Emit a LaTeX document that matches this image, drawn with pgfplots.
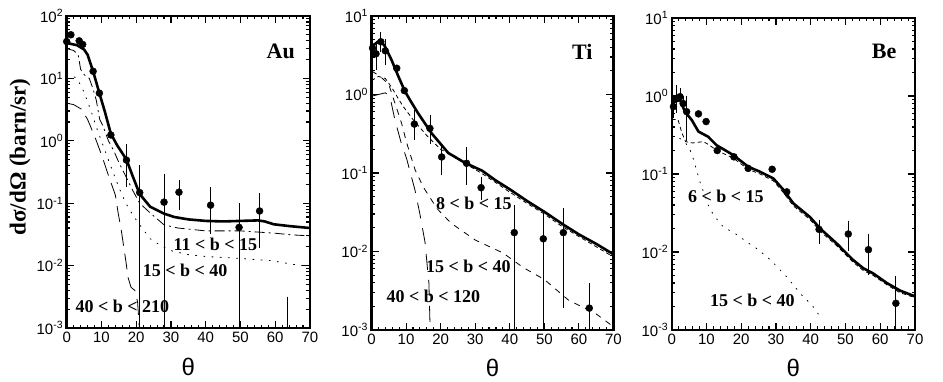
\documentclass[border=0pt]{standalone}
\usepackage{pgfplots}
\pgfplotsset{compat=1.18}
\usepackage{fontspec}
\setmainfont{Liberation Serif}
\setsansfont{Liberation Sans}

\pgfplotsset{
  tot/.style={black, line width=2.6pt, line join=round, no marks},
  comp/.style={black, line width=0.8pt, no marks},
  dat/.style={only marks, mark=*, mark size=3.5pt, black},
  bars/.style={only marks, mark=*, mark size=3.5pt, black,
    error bars/.cd, y dir=both, y explicit,
    error bar style={line width=0.8pt},
    error mark options={black, mark size=3.5pt, line width=0.8pt}},
}
\tikzset{
  lab/.style={font=\bfseries\fontsize{18}{18}\selectfont},
  elem/.style={font=\bfseries\fontsize{22}{22}\selectfont},
}

\begin{document}
\begin{tikzpicture}
\useasboundingbox (0,0) rectangle (943pt,382pt);

% ---------------- Au ----------------
\begin{axis}[
  scale only axis, anchor=south west, at={(66.7pt,54pt)},
  width=243.3pt, height=312pt,
  xmin=0, xmax=70, ymode=log, log basis y=10, ymin=1e-3, ymax=1e2,
  xtick={0,10,...,70}, xticklabels={0,10,20,30,40,50,60,70},
  minor x tick num=4, tick align=inside,
  major tick length=7pt, minor tick length=3.5pt,
  tick style={black, line width=1.1pt},
  axis line style={line width=2.4pt},
  ticklabel style={font=\sffamily\fontsize{15}{15}\selectfont},
  yticklabel={10\textsuperscript{\pgfmathparse{int(round(\tick))}\pgfmathresult}},
  xlabel={θ},
  xlabel style={font=\sffamily\fontsize{24}{24}\selectfont,
    at={(axis description cs:0.5,-0.126)}, anchor=center},
  ylabel={dσ/dΩ (barn/sr)},
  ylabel style={font=\bfseries\fontsize{23}{23}\selectfont,
    at={(axis description cs:-0.192,0.548)}, anchor=center}]
\addplot[tot] table {
0 37
1 36
3 34
5 29
6 24
7.6 13
9.4 5.8
11 2.9
12.7 1.3
14.5 0.85
17.2 0.5
19 0.27
21 0.14
24 0.088
28 0.068
31 0.06
35 0.055
40 0.052
45 0.051
50 0.052
55 0.053
57 0.051
59.5 0.046
64 0.043
70 0.040
};
% 11 < b < 15
\addplot[comp, dash pattern=on 10pt off 4pt on 2pt off 4pt] table {
0 30
2 28
3.3 24
4 14
5 11.5
6.5 10
7.5 7
8.5 4.5
9.5 2.2
10.5 1.7
12 1.0
13.5 0.7
15 0.45
17 0.27
19 0.16
21 0.1
24 0.07
28 0.045
32 0.04
40 0.036
50 0.036
60 0.033
65 0.031
70 0.030
};
% 15 < b < 40
\addplot[comp, line cap=round, dash pattern=on 1.2pt off 7pt] table {
0 12
3 10
5 6
7 3
9 1.4
11 0.7
13 0.35
15 0.18
17 0.1
19 0.065
21 0.045
24 0.027
27 0.021
30.5 0.017
35 0.015
40 0.014
50 0.013
59 0.012
65 0.0105
70 0.0097
};
% 40 < b < 210
\addplot[comp, dash pattern=on 16pt off 8pt] table {
0 4.0
2 3.8
4.3 3.2
6 2.2
8 1.2
10 0.6
12 0.28
14 0.135
14.8 0.07
15.7 0.037
17 0.012
17.7 0.0063
18.5 0.0045
19.6 0.004
20.4 0.0026
20.8 0.0012
21 0.0009
};
\addplot[dat] table {
0 39
1.2 50
3.6 40
4.6 35
7.6 13
9.4 5.8
12.7 1.24
};
\addplot[bars] table[x=x, y=y, y error plus=ep, y error minus=em] {
x y ep em
17.2 0.49 0.28 0.28
21.0 0.148 0.212 0.1479
28.0 0.104 0.156 0.1039
32.3 0.15 0.06 0.062
41.4 0.093 0.067 0.056
49.6 0.041 0.047 0.0409
55.5 0.075 0.052 0.053
63.5 0.0004 0.0024 0.0003
};
\node[elem] at (axis cs:61.6,26.8) {Au};
\node[lab] at (axis cs:42.8,0.0219) {11 < b < 15};
\node[lab] at (axis cs:34.1,0.0085) {15 < b < 40};
\node[lab] at (axis cs:16.0,0.0022) {40 < b < 210};
\end{axis}

% ---------------- Ti ----------------
\begin{axis}[
  scale only axis, anchor=south west, at={(371.5pt,52pt)},
  width=242pt, height=314pt,
  xmin=0, xmax=70, ymode=log, log basis y=10, ymin=1e-3, ymax=1e1,
  xtick={0,10,...,70}, xticklabels={0,10,20,30,40,50,60,70},
  minor x tick num=4, tick align=inside,
  major tick length=7pt, minor tick length=3.5pt,
  tick style={black, line width=1.1pt},
  axis line style={line width=2.4pt},
  ticklabel style={font=\sffamily\fontsize{15}{15}\selectfont},
  yticklabel={10\textsuperscript{\pgfmathparse{int(round(\tick))}\pgfmathresult}},
  xlabel={θ},
  xlabel style={font=\sffamily\fontsize{24}{24}\selectfont,
    at={(axis description cs:0.5,-0.12)}, anchor=center}]
\addplot[tot] table {
0 4.1
1 4.4
2.5 4.9
3.9 4.1
5.8 2.75
7.8 1.69
9.7 1.09
11.5 0.8
13.5 0.575
17.4 0.32
22.2 0.18
27 0.135
32 0.107
36 0.08
40 0.062
45 0.044
50 0.032
55.5 0.022
60 0.0165
65 0.0125
70 0.0092
};
% 8 < b < 15
\addplot[comp, dash pattern=on 4pt off 3pt] table {
0 1.5
2 1.7
4 1.6
6 1.2
8 0.85
9.2 0.7
12 0.48
16 0.3
20 0.2
24.6 0.16
28 0.125
32 0.098
36 0.075
40 0.057
45 0.041
50 0.03
55 0.021
60 0.0155
65 0.0115
70 0.0085
};
% 15 < b < 40
\addplot[comp, dash pattern=on 6pt off 6pt] table {
0 2.0
2.5 1.7
5 1.35
6.8 0.77
8.7 0.43
10.2 0.24
12.6 0.11
15 0.066
19 0.035
23 0.023
30 0.014
38 0.0096
44 0.0062
50 0.0044
57 0.0024
65 0.0016
70 0.0011
};
% 40 < b < 120
\addplot[comp, dash pattern=on 16pt off 10pt] table {
0 0.95
2 1.0
4 1.05
5.3 0.95
6.8 0.47
8.5 0.25
10.2 0.15
12.6 0.06
14 0.03
15.5 0.013
16.2 0.006
16.6 0.004
17 0.0009
};
\addplot[dat] table {
7.3 2.16
9.5 1.12
};
\addplot[bars] table[x=x, y=y, y error plus=ep, y error minus=em] {
x y ep em
0.3 3.9 1.3 1.3
1.3 3.3 1.0 1.0
2.7 4.7 0.9 0.9
4.0 3.6 1.0 1.0
12.4 0.42 0.15 0.13
16.9 0.37 0.13 0.11
20.3 0.16 0.05 0.056
27.5 0.133 0.062 0.055
31.7 0.065 0.016 0.015
41.3 0.0174 0.0176 0.0173
49.7 0.0145 0.0135 0.0144
55.5 0.0174 0.0146 0.0153
63 0.0019 0.0017 0.0018
};
\node[elem] at (axis cs:61.0,3.5) {Ti};
\node[lab] at (axis cs:29.6,0.041) {8 < b < 15};
\node[lab] at (axis cs:28.0,0.0065) {15 < b < 40};
\node[lab] at (axis cs:17.9,0.00266) {40 < b < 120};
\end{axis}

% ---------------- Be ----------------
\begin{axis}[
  scale only axis, anchor=south west, at={(671.7pt,52pt)},
  width=243.3pt, height=312pt,
  xmin=0, xmax=70, ymode=log, log basis y=10, ymin=1e-3, ymax=1e1,
  xtick={0,10,...,70}, xticklabels={0,10,20,30,40,50,60,70},
  minor x tick num=4, tick align=inside,
  major tick length=7pt, minor tick length=3.5pt,
  tick style={black, line width=1.1pt},
  axis line style={line width=2.4pt},
  ticklabel style={font=\sffamily\fontsize{15}{15}\selectfont},
  yticklabel={10\textsuperscript{\pgfmathparse{int(round(\tick))}\pgfmathresult}},
  xlabel={θ},
  xlabel style={font=\sffamily\fontsize{24}{24}\selectfont,
    at={(axis description cs:0.5,-0.121)}, anchor=center}]
\addplot[tot] table {
0 0.8
1 0.85
2.4 0.89
3.8 0.63
5.8 0.49
7.7 0.35
10.5 0.3
12.9 0.234
17.7 0.175
22 0.124
25.4 0.107
29.2 0.088
32.1 0.063
35 0.042
39.8 0.028
42.7 0.02
47.5 0.0128
52.2 0.0079
55.1 0.0062
58 0.0053
61.9 0.004
65.7 0.0032
70 0.0027
};
% 6 < b < 15
\addplot[comp, dash pattern=on 4pt off 3pt] table {
0 0.5
1.8 0.5
2.9 0.34
4 0.26
6 0.25
9.1 0.26
10.5 0.24
13 0.2
17.7 0.16
22 0.115
25.4 0.1
29.2 0.082
32.1 0.058
35 0.039
39.8 0.026
42.7 0.0185
47.5 0.012
52.2 0.0074
55.1 0.0058
58 0.005
61.9 0.0038
65.7 0.003
70 0.0026
};
% 15 < b < 40
\addplot[comp, line cap=round, dash pattern=on 1.2pt off 7pt] table {
0 0.3
2 0.29
3.3 0.27
5 0.22
6.2 0.158
7.2 0.11
8.1 0.08
10.5 0.04
12 0.03
14.8 0.021
18.2 0.0173
21.6 0.0135
24.9 0.0107
28.3 0.008
33.1 0.0048
37.4 0.0028
40.3 0.0021
42.2 0.0016
};
\addplot[dat] table {
7.7 0.59
9.9 0.47
13.1 0.2
17.9 0.166
22 0.118
28.9 0.115
33.1 0.059
};
\addplot[bars] table[x=x, y=y, y error plus=ep, y error minus=em] {
x y ep em
0.5 0.73 0.17 0.15
1.4 0.93 0.32 0.25
2.4 0.98 0.15 0.15
3.3 0.8 0.1 0.1
4.3 0.63 0.26 0.34
42.4 0.0195 0.004 0.0054
50.8 0.017 0.0058 0.0056
56.6 0.0107 0.0048 0.0051
64.5 0.0022 0.0023 0.0021
};
\node[elem] at (axis cs:61.1,3.7) {Be};
\node[lab] at (axis cs:15.6,0.051) {6 < b < 15};
\node[lab] at (axis cs:23.2,0.00243) {15 < b < 40};
\end{axis}
\end{tikzpicture}
\end{document}
